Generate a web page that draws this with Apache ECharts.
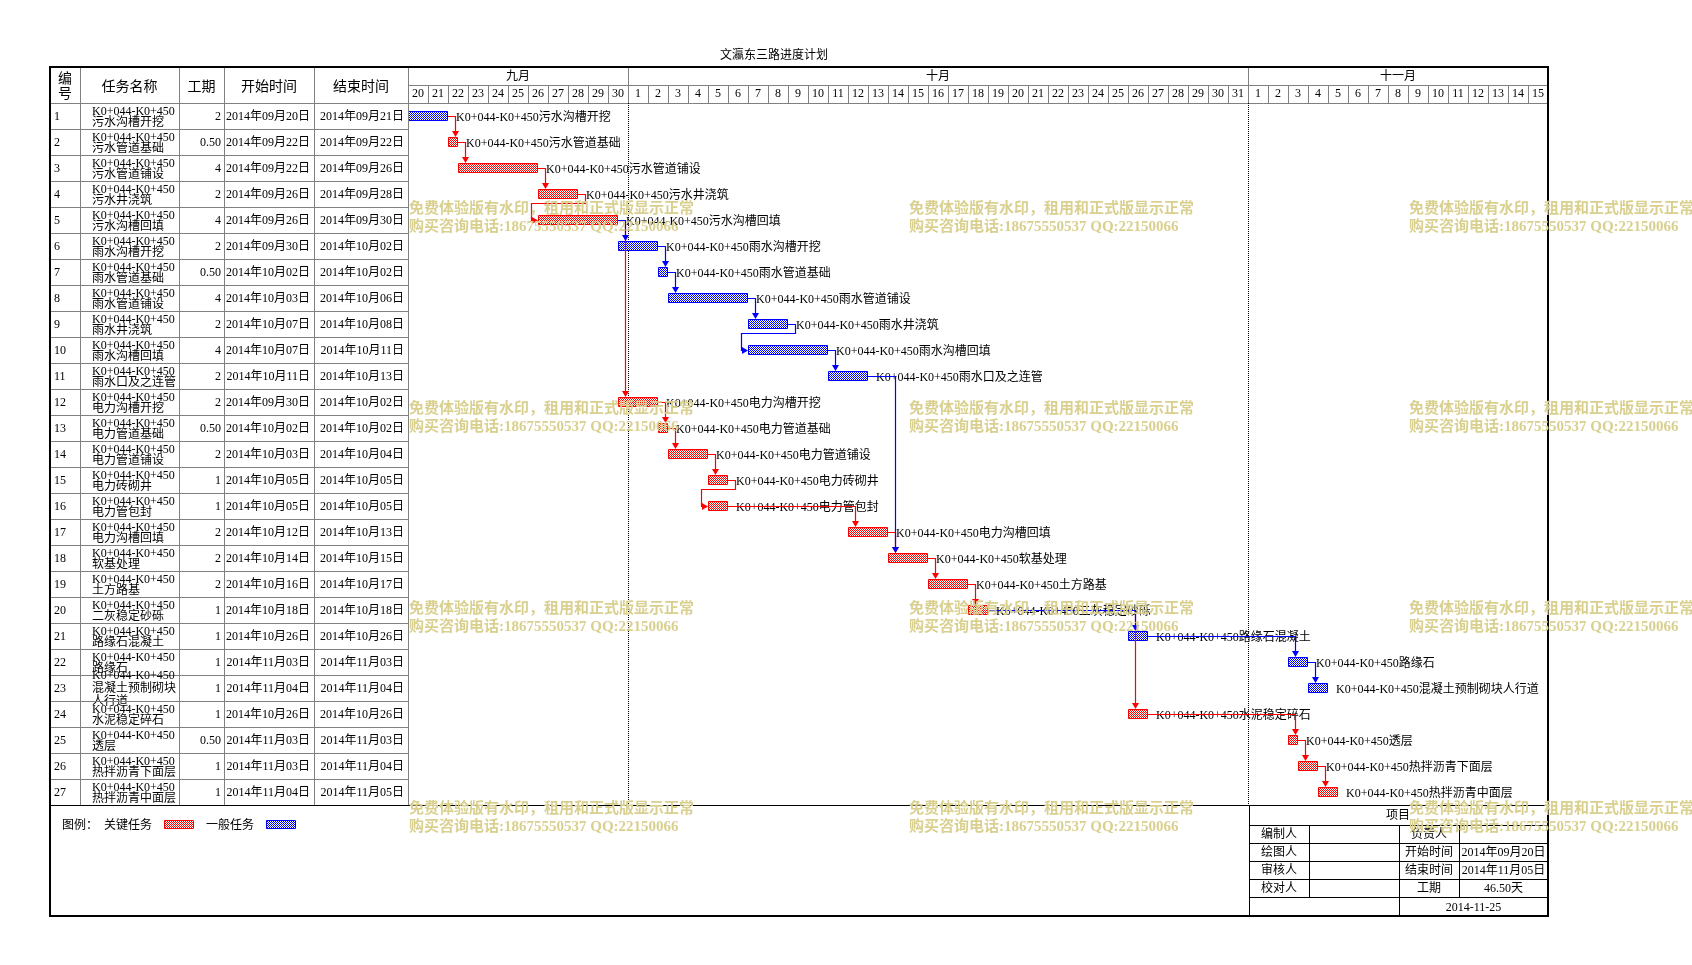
<!DOCTYPE html>
<html><head><meta charset="utf-8">
<script src="https://cdn.jsdelivr.net/npm/echarts@6/dist/echarts.min.js"></script>
<style>html,body{margin:0;padding:0;background:#fff}#c{width:1692px;height:965px}</style>
</head><body><div id="c"></div>
<script>
// ---------------- DATA ----------------
const title = '文瀛东三路进度计划';
const section = 'K0+044-K0+450';
const rowIds = ['1','2','3','4','5','6','7','8','9','10','11','12','13','14','15','16','17','18','19','20','21','22','23','24','25','26','27'];
const taskNames = ['污水沟槽开挖','污水管道基础','污水管道铺设','污水井浇筑','污水沟槽回填','雨水沟槽开挖','雨水管道基础','雨水管道铺设','雨水井浇筑','雨水沟槽回填','雨水口及之连管','电力沟槽开挖','电力管道基础','电力管道铺设','电力砖砌井','电力管包封','电力沟槽回填','软基处理','土方路基','二灰稳定砂砾','路缘石混凝土','路缘石','混凝土预制砌块人行道','水泥稳定碎石','透层','热拌沥青下面层','热拌沥青中面层'];
const durations = [2,0.5,4,2,4,2,0.5,4,2,4,2,2,0.5,2,1,1,2,2,2,1,1,1,1,1,0.5,1,1];
const startDates = ['2014年09月20日','2014年09月22日','2014年09月22日','2014年09月26日','2014年09月26日','2014年09月30日','2014年10月02日','2014年10月03日','2014年10月07日','2014年10月07日','2014年10月11日','2014年09月30日','2014年10月02日','2014年10月03日','2014年10月05日','2014年10月05日','2014年10月12日','2014年10月14日','2014年10月16日','2014年10月18日','2014年10月26日','2014年11月03日','2014年11月04日','2014年10月26日','2014年11月03日','2014年11月03日','2014年11月04日'];
const endDates = ['2014年09月21日','2014年09月22日','2014年09月26日','2014年09月28日','2014年09月30日','2014年10月02日','2014年10月02日','2014年10月06日','2014年10月08日','2014年10月11日','2014年10月13日','2014年10月02日','2014年10月02日','2014年10月04日','2014年10月05日','2014年10月05日','2014年10月13日','2014年10月15日','2014年10月17日','2014年10月18日','2014年10月26日','2014年11月03日','2014年11月04日','2014年10月26日','2014年11月03日','2014年11月04日','2014年11月05日'];
// bar start, in days counted from 2014-09-20 00:00
const barStarts = [0,2,2.5,6.5,6.5,10.5,12.5,13,17,17,21,10.5,12.5,13,15,15,22,24,26,28,36,44,45,36,44,44.5,45.5];
// 1 = 关键任务 (red), 0 = 一般任务 (blue)
const critical = [0,1,1,1,1,0,0,0,0,0,0,1,1,1,1,1,1,1,1,1,0,0,0,1,1,1,1];
// dependency links [from task, to task, critical colour]
const links = [[1,2,1],[2,3,1],[3,4,1],[4,5,1],[5,12,1],[12,13,1],[13,14,1],[14,15,1],[15,16,1],[16,17,1],[17,18,1],[18,19,1],[19,20,1],[20,24,1],[24,25,1],[25,26,1],[26,27,1],
               [5,6,0],[6,7,0],[7,8,0],[8,9,0],[9,10,0],[10,11,0],[11,18,0],[20,21,0],[21,22,0],[22,23,0]];
const dayLabels = ['20','21','22','23','24','25','26','27','28','29','30',
  '1','2','3','4','5','6','7','8','9','10','11','12','13','14','15','16','17','18','19','20','21','22','23','24','25','26','27','28','29','30','31',
  '1','2','3','4','5','6','7','8','9','10','11','12','13','14','15'];
const months = ['九月','十月','十一月'];
const monthStarts = [0,11,42];
const monthEnds = [11,42,57];
const headerCols = ['编\n号','任务名称','工期','开始时间','结束时间'];
const legendLabel = '图例：';
const legendItems = ['关键任务','一般任务'];
const infoTitle = '项目';
const infoLeft = ['编制人','绘图人','审核人','校对人'];
const infoRightLabels = ['负责人','开始时间','结束时间','工期'];
const infoRightValues = ['','2014年09月20日','2014年11月05日','46.50天'];
const printDate = '2014-11-25';
const watermark = ['免费体验版有水印，租用和正式版显示正常','购买咨询电话:18675550537 QQ:22150066'];

// ---------------- STYLE / LAYOUT ----------------
const FONT = '"Liberation Serif","Noto Sans CJK SC",serif';
const F12 = '12px ' + FONT;
const GRAY = '#808080';
const RED = '#ff0000', BLUE = '#0000ff';
function checker(color){
  const c = document.createElement('canvas'); c.width = 2; c.height = 2;
  const g = c.getContext('2d');
  g.fillStyle = '#ffffff'; g.fillRect(0,0,2,2);
  g.fillStyle = color; g.fillRect(0,0,1,1); g.fillRect(1,1,1,1);
  return c;
}
const patRed = {image: checker(RED), repeat: 'repeat'};
const patBlue = {image: checker(BLUE), repeat: 'repeat'};

const L = 50, T = 67, R = 1548, B = 916;
const GT = 103, GH = 702, GL = 408, GW = 1140;
const colX = [50, 80, 179, 224, 314, 408];

function txt(x, y, text, opt){
  opt = opt || {};
  return {type:'text', z: opt.z || 10, style: {x:x, y:y, text:text, font: opt.font || F12, fill: opt.fill || '#000',
    textAlign: opt.align || 'left', textVerticalAlign: 'middle', lineHeight: opt.lh}};
}
function line(x1,y1,x2,y2,color,w,dash,z){
  return {type:'line', z: z || 5, shape:{x1:x1,y1:y1,x2:x2,y2:y2}, style:{stroke:color, lineWidth:w||1, lineDash: dash||null}};
}

const g = [];
// frame
g.push({type:'rect', z:20, shape:{x:L,y:T,width:R-L,height:B-T}, style:{fill:null, stroke:'#000', lineWidth:2}});
// title
g.push(txt(774, 56, title, {align:'center'}));
// table verticals
[80,179,224,314].forEach(x => g.push(line(x+0.5, T, x+0.5, 805, GRAY)));
g.push(line(408.5, T, 408.5, 805, GRAY));
g.push(line(L, 103.5, 408, 103.5, GRAY));
g.push(line(408, 85.5, R, 85.5, GRAY));
g.push(line(L, 805.5, R, 805.5, '#000'));
// header labels
headerCols.forEach((h, i) => {
  const cx = (colX[i] + colX[i+1]) / 2;
  g.push(txt(cx, 87, h, {align:'center', font:'14px ' + FONT, lh: 15}));
});
// legend
g.push(txt(62, 826, legendLabel));
g.push(txt(104, 826, legendItems[0]));
g.push({type:'rect', z:10, shape:{x:164.5,y:820.5,width:29,height:8}, style:{fill:patRed, stroke:RED, lineWidth:1}});
g.push(txt(206, 826, legendItems[1]));
g.push({type:'rect', z:10, shape:{x:266.5,y:820.5,width:29,height:8}, style:{fill:patBlue, stroke:BLUE, lineWidth:1}});
// info table
const ix = [1249, 1309, 1399, 1459, 1548];
const iy = [805, 825, 843, 861, 879, 897, 916];
g.push(line(1249.5, 805, 1249.5, B, '#000'));
for (let k = 1; k <= 5; k++) g.push(line(1249, iy[k]+0.5, R, iy[k]+0.5, '#000'));
[1309, 1459].forEach(x => g.push(line(x+0.5, 825, x+0.5, 897, '#000')));
g.push(line(1399.5, 825, 1399.5, B, '#000'));
g.push(txt(1398, 816, infoTitle, {align:'center'}));
for (let k = 0; k < 4; k++) {
  const cy = iy[k+1] + 10;
  g.push(txt((ix[0]+ix[1])/2, cy, infoLeft[k], {align:'center'}));
  g.push(txt((ix[2]+ix[3])/2, cy, infoRightLabels[k], {align:'center'}));
  g.push(txt((ix[3]+ix[4])/2, cy, infoRightValues[k], {align:'center'}));
}
g.push(txt((1399+1548)/2, 907.5, printDate, {align:'center'}));
// watermark
[409, 909, 1409].forEach(x => [209, 409, 609, 809].forEach(y => {
  g.push(txt(x, y, watermark[0], {font:'bold 15px ' + FONT, fill:'#d9d08f', z:100}));
  g.push(txt(x, y + 18, watermark[1], {font:'bold 15px ' + FONT, fill:'#d9d08f', z:100}));
}));

// ---------------- SERIES DATA ----------------
const barData = rowIds.map((id, i) => [i, barStarts[i], barStarts[i] + durations[i], critical[i]]);
const tableData = rowIds.map((id, i) => [0, i]);
const linkData = links.map(l => {
  const f = l[0]-1, t = l[1]-1;
  return [f, barStarts[f] + durations[f], t, barStarts[t], l[2]];
});
const monthData = months.map((m, i) => [monthStarts[i], monthEnds[i], i]);
function durText(d){ return Number.isInteger(d) ? String(d) : d.toFixed(2); }
function wrapName(n){ return n.length > 7 ? n.slice(0,7) + '\n' + n.slice(7) : n; }

const option = {
  animation: false,
  backgroundColor: '#fff',
  grid: {left: GL, top: GT, width: GW, height: GH, show: false},
  xAxis: [
    {type:'value', min:0, max:57, show:false},
    {type:'category', data: dayLabels, position:'top', boundaryGap:true,
     axisLine:{show:true, lineStyle:{color:GRAY, width:1}},
     axisTick:{show:true, interval:0, length:18, lineStyle:{color:GRAY}},
     axisLabel:{interval:0, margin:3, fontSize:12, color:'#000', fontFamily: FONT},
     splitLine:{show:false}}
  ],
  yAxis: {type:'category', data: rowIds, inverse:true, show:false},
  graphic: g,
  series: [
    { // table rows
      type:'custom', clip:false, z:3, data: tableData, encode:{x:0, y:1},
      renderItem(params, api){
        const i = api.value(1);
        const y = api.coord([0, i])[1];
        const name = wrapName(taskNames[i]);
        const lines = name.split('\n').length + 1;
        return {type:'group', children:[
          {type:'text', style:{x:54, y:y+1, text:rowIds[i], font:F12, fill:'#000', textAlign:'left', textVerticalAlign:'middle'}},
          {type:'text', style:{x:92, y:y+1, text:section + '\n' + name, font:F12, fill:'#000', textAlign:'left', textVerticalAlign:'middle', lineHeight: lines > 2 ? 13 : 11}},
          {type:'text', style:{x:221, y:y+1, text:durText(durations[i]), font:F12, fill:'#000', textAlign:'right', textVerticalAlign:'middle'}},
          {type:'text', style:{x:310, y:y+1, text:startDates[i], font:F12, fill:'#000', textAlign:'right', textVerticalAlign:'middle'}},
          {type:'text', style:{x:404, y:y+1, text:endDates[i], font:F12, fill:'#000', textAlign:'right', textVerticalAlign:'middle'}},
          {type:'line', shape:{x1:L, y1:Math.round(y+13)+0.5, x2:408, y2:Math.round(y+13)+0.5}, style:{stroke:GRAY, lineWidth:1}}
        ]};
      }
    },
    { // month header + month boundaries
      type:'custom', clip:false, z:3, data: monthData, encode:{x:[0,1]},
      renderItem(params, api){
        const xs = api.coord([api.value(0), 0])[0];
        const xe = api.coord([api.value(1), 0])[0];
        const cs = params.coordSys;
        const ch = [{type:'text', style:{x:(xs+xe)/2, y:77, text:months[api.value(2)], font:F12, fill:'#000', textAlign:'center', textVerticalAlign:'middle'}}];
        if (api.value(0) > 0) {
          const x = Math.round(xs) + 0.5;
          ch.push({type:'line', shape:{x1:x, y1:T, x2:x, y2:86}, style:{stroke:GRAY, lineWidth:1}});
          ch.push({type:'line', shape:{x1:x, y1:cs.y, x2:x, y2:cs.y + cs.height}, style:{stroke:'#000', lineWidth:1, lineDash:[1,1]}});
        }
        return {type:'group', children: ch};
      }
    },
    { // bars + labels
      type:'custom', clip:false, z:4, data: barData, encode:{x:[1,2], y:0},
      renderItem(params, api){
        const r = api.value(0);
        const s = api.coord([api.value(1), r]);
        const e = api.coord([api.value(2), r]);
        const crit = api.value(3) === 1;
        const x0 = Math.round(s[0]) + 0.5, x1 = Math.round(e[0]) - 0.5, y = Math.round(s[1]);
        return {type:'group', children:[
          {type:'rect', shape:{x:x0, y:y-4.5, width:x1-x0, height:9}, style:{fill: crit ? patRed : patBlue, stroke: crit ? RED : BLUE, lineWidth:1}},
          {type:'text', style:{x: e[0] + 8, y: y + 1.5, text: section + taskNames[r], font:F12, fill:'#000', textAlign:'left', textVerticalAlign:'middle'}}
        ]};
      }
    },
    { // dependency links
      type:'custom', clip:false, z:5, data: linkData, encode:{x:[1,3], y:[0,2]},
      renderItem(params, api){
        const fr = api.value(0), fe = api.value(1), tr = api.value(2), ts = api.value(3);
        const col = api.value(4) === 1 ? RED : BLUE;
        const p1 = api.coord([fe, fr]), p2 = api.coord([ts, tr]);
        const y1 = Math.round(p1[1]) + 0.5, y2 = Math.round(p2[1]);
        const xe = Math.round(p1[0]);
        const ch = [];
        if (ts >= fe) {
          const xt = Math.round(api.coord([ts, tr])[0]) + 7 + 0.5;
          const tip = y2 - 5;
          ch.push({type:'polyline', shape:{points:[[xe, y1],[xt, y1],[xt, tip-5]]}, style:{stroke:col, lineWidth:1.2, fill:null}});
          ch.push({type:'polygon', shape:{points:[[xt-3.5, tip-6],[xt+3.5, tip-6],[xt, tip]]}, style:{fill:col}});
        } else {
          const xa = xe + 7 + 0.5, ym = y1 + 9;
          const xs = Math.round(p2[0]);
          const xb = xs - 7 + 0.5;
          const yy = y2 + 0.5;
          ch.push({type:'polyline', shape:{points:[[xe, y1],[xa, y1],[xa, ym],[xb, ym],[xb, yy],[xs-5, yy]]}, style:{stroke:col, lineWidth:1.2, fill:null}});
          ch.push({type:'polygon', shape:{points:[[xs-6, yy-3.5],[xs-6, yy+3.5],[xs, yy]]}, style:{fill:col}});
        }
        return {type:'group', children: ch};
      }
    }
  ]
};
const chart = echarts.init(document.getElementById('c'));
chart.setOption(option);
</script>
</body></html>
